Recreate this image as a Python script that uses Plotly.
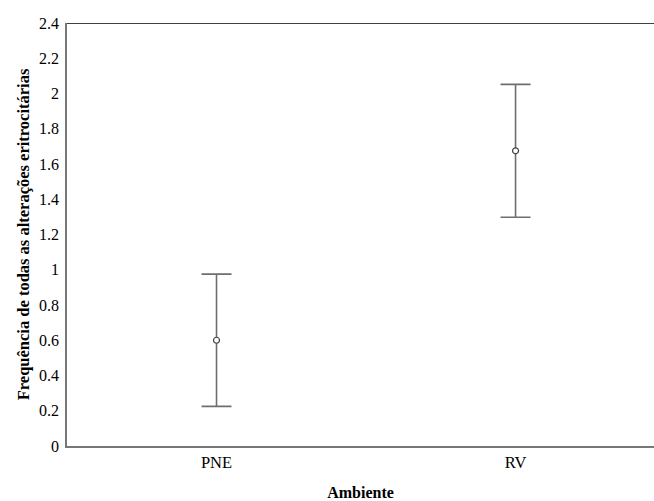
import plotly.graph_objects as go

categories = ["PNE", "RV"]
means = [0.60, 1.675]
errors = [0.375, 0.377]
y_ticks = [0, 0.2, 0.4, 0.6, 0.8, 1, 1.2, 1.4, 1.6, 1.8, 2, 2.2, 2.4]

font_family = "Liberation Serif"

fig = go.Figure()
fig.add_trace(go.Scatter(
    x=[0, 1],
    y=means,
    mode="markers",
    marker=dict(symbol="circle", size=6, color="white", line=dict(width=1.2, color="#404040")),
    error_y=dict(type="data", array=errors, visible=True, color="#6e6e6e", thickness=1.6, width=15),
    showlegend=False,
    hoverinfo="skip",
))

fig.update_layout(
    width=654, height=501,
    margin=dict(l=67, r=0, t=23, b=55),
    paper_bgcolor="white", plot_bgcolor="white",
    font=dict(family=font_family, size=16, color="black"),
    xaxis=dict(
        range=[-0.5, 1.463],
        tickmode="array", tickvals=[0, 1], ticktext=categories,
        showgrid=False, zeroline=False,
        showline=True, linecolor="#777777", linewidth=2,
        ticks="", tickfont=dict(size=16.5, family=font_family),
        automargin=False,
        title=dict(text="<b>Ambiente</b>", font=dict(size=16, family=font_family), standoff=20),
    ),
    yaxis=dict(
        range=[0, 2.4],
        tickmode="array", tickvals=y_ticks, ticktext=[f"{v:g}" for v in y_ticks],
        showgrid=False, zeroline=False,
        showline=True, linecolor="#777777", linewidth=1.5,
        ticks="", tickfont=dict(size=16, family=font_family),
        ticklabelstandoff=3,
        automargin=False,
        title=dict(text="<b>Frequência de todas as alterações eritrocitárias</b>",
                   font=dict(size=16.5, family=font_family), standoff=5),
    ),
)
fig.add_shape(type="line", xref="paper", yref="y", x0=0, x1=1, y0=2.4, y1=2.4,
              line=dict(color="black", width=1.5))

fig.write_html("out.html",
               config={"displayModeBar": False},
               post_script="document.body.style.margin='0';document.body.style.overflow='hidden';")
